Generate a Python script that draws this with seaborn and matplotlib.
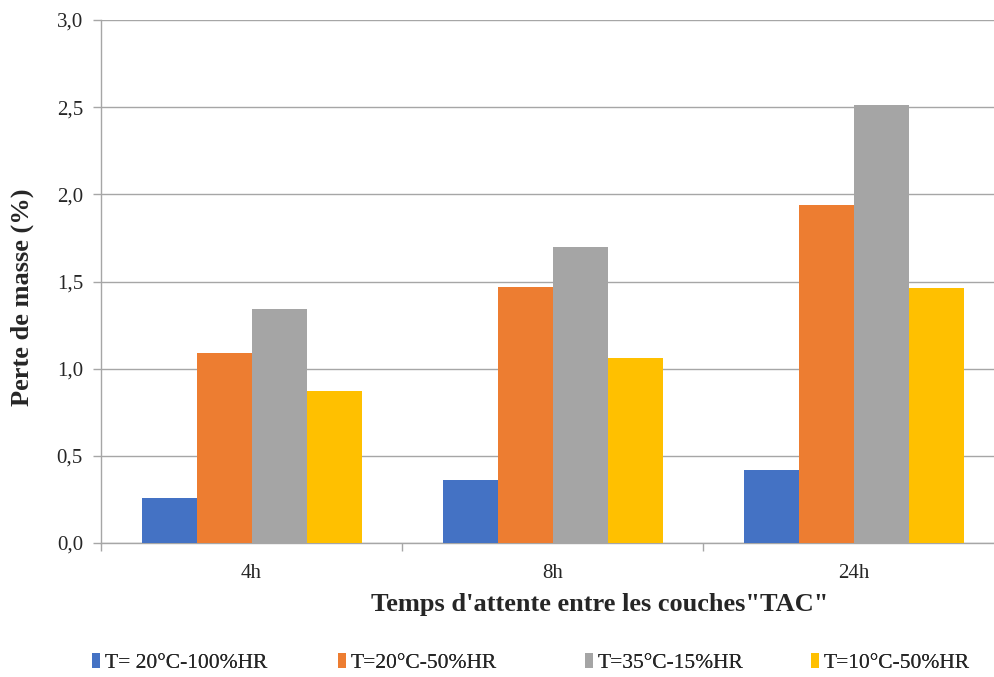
import numpy as np
import pandas as pd
import seaborn as sns
import matplotlib.pyplot as plt
from matplotlib.patches import Patch

# données
categories = ["4h", "8h", "24h"]
series = ["T= 20°C-100%HR", "T=20°C-50%HR", "T=35°C-15%HR", "T=10°C-50%HR"]
v_20_100 = [0.26, 0.36, 0.42]
v_20_50 = [1.09, 1.47, 1.94]
v_35_15 = [1.34, 1.70, 2.51]
v_10_50 = [0.87, 1.06, 1.46]
colors = ["#4472C4", "#ED7D31", "#A5A5A5", "#FFC000"]

rows = []
for name, vals in zip(series, [v_20_100, v_20_50, v_35_15, v_10_50]):
    for c, v in zip(categories, vals):
        rows.append({"temps": c, "serie": name, "perte": v})
df = pd.DataFrame(rows)

sns.set_style("white")
plt.rcParams['font.family'] = ['Liberation Serif', 'DejaVu Serif']

fig = plt.figure(figsize=(9.94, 6.77), dpi=100)
ax = fig.add_axes([101 / 994, 1 - 543 / 677, 903.5 / 994, 523 / 677])

sns.barplot(data=df, x="temps", y="perte", hue="serie", order=categories,
            hue_order=series, palette=colors, width=0.73, gap=0,
            linewidth=0, saturation=1, ax=ax, legend=False, zorder=3)

ax.set_ylim(0, 3.0)
ax.set_xlim(-0.5, 2.5)
yt = np.arange(0, 3.01, 0.5)
ax.set_yticks(yt)
ax.set_yticklabels([f"{t:.1f}".replace(".", ",") for t in yt], fontsize=15)
ax.yaxis.grid(True, color="#A6A6A6", linewidth=1, zorder=0)
ax.set_axisbelow(True)

ax.set_xticks([0, 1, 2])
ax.set_xticklabels(categories, fontsize=15)
ax.set_xticks([-0.5, 0.5, 1.5, 2.5], minor=True)
ax.tick_params(axis="x", which="major", bottom=True, length=0, pad=15)
ax.tick_params(axis="x", which="minor", bottom=True, length=6, color="#A6A6A6", width=1)
ax.tick_params(axis="y", left=True, length=6, color="#A6A6A6", width=1, pad=7)

for side in ["top", "right"]:
    ax.spines[side].set_visible(False)
for side in ["left", "bottom"]:
    ax.spines[side].set_color("#A6A6A6")
    ax.spines[side].set_linewidth(1)

ax.set_xlabel("")
ax.set_ylabel("")
fig.text(22 / 994, 1 - 297 / 677, "Perte de masse (%)", rotation=90,
         ha="center", va="center", fontsize=19, fontweight="bold")
fig.text(600 / 994, 1 - 605 / 677, "Temps d'attente entre les couches\"TAC\"",
         ha="center", va="center", fontsize=19, fontweight="bold")

# légende : une entrée par position, comme dans Excel
leg_x = [92, 338, 585, 811]
for name, c, x in zip(series, colors, leg_x):
    leg = fig.legend([Patch(facecolor=c, edgecolor="none")], [name],
                     loc="center left", bbox_to_anchor=(x / 994, 1 - 663 / 677),
                     frameon=False, fontsize=15.5, handlelength=0.35, handleheight=0.7,
                     handletextpad=0.25, borderpad=0, borderaxespad=0)
    fig.add_artist(leg)

fig.savefig("out.png", dpi=100)
